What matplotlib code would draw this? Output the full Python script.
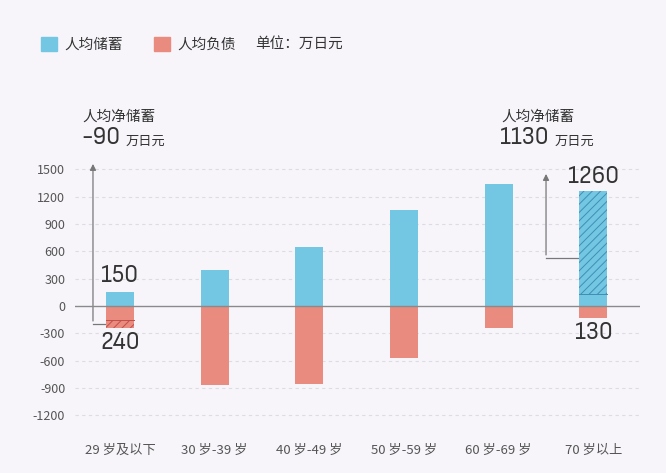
import matplotlib
matplotlib.use("Agg")
import matplotlib.pyplot as plt
from matplotlib import font_manager
from matplotlib.patches import Patch
import numpy as np

plt.rcParams['font.family'] = ['Noto Sans CJK SC', 'DejaVu Sans']
plt.rcParams['hatch.linewidth'] = 0.7

# data (万日元)
groups = ['29 岁及以下', '30 岁-39 岁', '40 岁-49 岁', '50 岁-59 岁', '60 岁-69 岁', '70 岁以上']
savings = [150, 400, 650, 1050, 1340, 1260]
debt = [240, 870, 860, 570, 240, 130]
yticks = [1500, 1200, 900, 600, 300, 0, -300, -600, -900, -1200]

blue = '#74c7e2'
red = '#e98b7e'
hatch_blue = '#3f8fb3'
hatch_red = '#c0504a'
bg = '#f7f5fa'
grey = '#555555'

# look for a condensed face for the big numbers
names = {f.name for f in font_manager.fontManager.ttflist}
cond = [n for n in names if 'Condensed' in n or 'Narrow' in n]
num_font = (cond[:1] or ['Roboto']) + ['DejaVu Sans']

fig = plt.figure(figsize=(6.66, 4.73), dpi=100, facecolor=bg)
ax = fig.add_axes([0.1126, 0.1027, 0.848, 0.5586])
ax.set_facecolor(bg)

x = np.arange(len(groups))
w = 0.296
ax.bar(x, savings, w, color=blue, zorder=3)
ax.bar(x, [-d for d in debt], w, color=red, zorder=3)

# net savings hatching
ax.bar(x[0], -(debt[0] - savings[0]), w, bottom=-savings[0], facecolor='none',
       edgecolor=hatch_red, hatch='////', linewidth=0, zorder=4)
ax.bar(x[5], savings[5] - debt[5], w, bottom=debt[5], facecolor='none',
       edgecolor=hatch_blue, hatch='////', linewidth=0, zorder=4)
ax.plot([x[5] - w / 2, x[5] + w / 2], [debt[5], debt[5]], color=hatch_blue, lw=0.7, zorder=4)
ax.plot([x[0] - w / 2, x[0] + w / 2], [-savings[0], -savings[0]], color=hatch_red, lw=0.7, zorder=4)

ax.set_xlim(-0.475, 5.49)
ax.set_ylim(-1300, 1600)
ax.set_yticks(yticks)
ax.set_yticklabels([str(t) for t in yticks], fontsize=9, color=grey)
ax.set_xticks(x)
ax.set_xticklabels(groups, fontsize=9.5, color=grey)
ax.tick_params(axis='y', length=0, pad=7)
ax.tick_params(axis='x', length=0, pad=14)
for s in ax.spines.values():
    s.set_visible(False)
for t in yticks:
    if t != 0:
        ax.axhline(t, color='#dcdce4', lw=0.8, ls=(0, (3, 3)), zorder=1)
ax.axhline(0, color='#8a8a8a', lw=1.0, zorder=5)

# value labels
lab = dict(ha='center', va='center', fontsize=18, family=num_font, color='#333333')
ax.text(x[0], 335, str(savings[0]), **lab)
ax.text(x[0], -405, str(debt[0]), **lab)
ax.text(x[5], 1420, str(savings[5]), **lab)
ax.text(x[5], -290, str(debt[5]), **lab)

# arrows to net savings
arrow_kw = dict(arrowstyle='-|>', color='#777777', lw=0.9, mutation_scale=9)
ax.plot([x[0] - w / 2, -0.285], [-195, -195], color='#777777', lw=0.9, clip_on=False)
ax.annotate('', xy=(-0.285, 1590), xytext=(-0.285, -195), arrowprops=arrow_kw,
            annotation_clip=False)
ax.plot([x[5] - w / 2, 4.5], [530, 530], color='#777777', lw=0.9, clip_on=False)
ax.annotate('', xy=(4.5, 1480), xytext=(4.5, 530), arrowprops=arrow_kw,
            annotation_clip=False)

net = [savings[0] - debt[0], savings[5] - debt[5]]
renderer = fig.canvas.get_renderer()
for px, val in [(82, net[0]), (501, net[1])]:
    fig.text(px / 666, 1 - 117 / 473, '人均净储蓄', fontsize=10.5, color='#333333', va='center')
    t = fig.text((px - 1) / 666, 1 - 138 / 473, str(val), fontsize=18, family=num_font,
                 color='#333333', va='center')
    bb = t.get_window_extent(renderer)
    fig.text((bb.x1 + 6) / 666, 1 - 141 / 473, '万日元', fontsize=9.5, color='#333333',
             va='center')

# legend
handles = [Patch(color=blue), Patch(color=red)]
fig.legend(handles, ['人均储蓄', '人均负债'], loc='center left',
           bbox_to_anchor=(28 / 666, 1 - 44 / 473), ncol=2, frameon=False,
           fontsize=10.5, handlelength=1.1, handleheight=1.1, handletextpad=0.5,
           columnspacing=2.1, labelcolor='#333333')
fig.text(255 / 666, 1 - 44 / 473, '单位：万日元', fontsize=10.5, color='#333333', va='center')

fig.savefig('out.png', dpi=100, facecolor=bg)
